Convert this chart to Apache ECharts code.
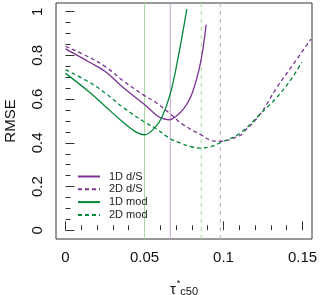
<!DOCTYPE html>
<html><head><meta charset="utf-8">
<script src="https://cdn.jsdelivr.net/npm/echarts@6/dist/echarts.min.js"></script>
<style>html,body{margin:0;padding:0;background:#fff}#c{width:320px;height:295px}</style>
</head><body><div id="c"></div>
<script>
// Data
const x1Dds = [0, 0.0152, 0.0258, 0.0363, 0.050, 0.057, 0.060, 0.0656, 0.070, 0.0747, 0.080, 0.0853, 0.089];
const y1Dds = [0.83, 0.769, 0.723, 0.654, 0.575, 0.53, 0.515, 0.505, 0.522, 0.555, 0.624, 0.761, 0.941];
const x2Dds = [0, 0.0152, 0.0258, 0.0363, 0.050, 0.057, 0.0663, 0.0737, 0.0863, 0.0916, 0.098, 0.1106, 0.1127, 0.123, 0.1338, 0.1443, 0.1553];
const y2Dds = [0.842, 0.791, 0.746, 0.685, 0.616, 0.586, 0.533, 0.487, 0.434, 0.413, 0.407, 0.434, 0.449, 0.529, 0.654, 0.761, 0.875];
const x1Dmod = [0, 0.0152, 0.0258, 0.0363, 0.0447, 0.050, 0.0568, 0.061, 0.0663, 0.0709, 0.0768];
const y1Dmod = [0.718, 0.632, 0.563, 0.495, 0.449, 0.437, 0.472, 0.517, 0.624, 0.776, 1.012];
const x2Dmod = [0, 0.0152, 0.0258, 0.0363, 0.050, 0.057, 0.0663, 0.0726, 0.080, 0.0857, 0.0916, 0.098, 0.1106, 0.123, 0.1338, 0.1422, 0.1496];
const y2Dmod = [0.735, 0.677, 0.624, 0.563, 0.495, 0.467, 0.419, 0.399, 0.381, 0.376, 0.382, 0.401, 0.445, 0.53, 0.609, 0.685, 0.769];
const optima = [0.0663, 0.098, 0.05, 0.0859]; // 1D d/S, 2D d/S, 1D mod, 2D mod
const seriesNames = ['1D d/S', '2D d/S', '1D mod', '2D mod'];
const xMajor = [0, 0.05, 0.1, 0.15];
const xMinor = [0.01, 0.02, 0.03, 0.04, 0.06, 0.07, 0.08, 0.09, 0.11, 0.12, 0.13, 0.14];
const yMajor = [0, 0.2, 0.4, 0.6, 0.8, 1];
const yMinor = [0.05, 0.1, 0.15, 0.25, 0.3, 0.35, 0.45, 0.5, 0.55, 0.65, 0.7, 0.75, 0.85, 0.9, 0.95];
const yRange = [-0.04, 1.04];
const xRange = [-0.006, 0.156];

const PURPLE = '#7b3294', LPURPLE = '#c2a5cf', GREEN = '#008837', LGREEN = '#a6dba0';
const FONT = 'Liberation Sans, Arial, sans-serif';
const zip = (xs, ys) => xs.map((v, i) => [v, ys[i]]);

const chart = echarts.init(document.getElementById('c'), null, {renderer: 'canvas'});
const tickStyle = {color: '#333', width: 1};
const mk = (name, xs, ys, color, dashed) => ({
  name, type: 'line', xAxisIndex: 0, yAxisIndex: 0, data: zip(xs, ys),
  symbol: 'none', smooth: 0.4, z: 3,
  lineStyle: {color, width: 1.3, type: dashed ? [4, 3] : 'solid'},
  itemStyle: {color}
});
const vline = (v, color, dashed) => ({
  type: 'line', xAxisIndex: 0, yAxisIndex: 0, z: 1, silent: true, symbol: 'none',
  data: [[v, yRange[0]], [v, yRange[1]]],
  lineStyle: {color, width: 1, type: dashed ? [4, 4] : 'solid'},
  itemStyle: {color}
});
chart.setOption({
  animation: false,
  textStyle: {fontFamily: FONT},
  grid: {left: 56, right: 8, top: 3, bottom: 56, show: true, borderColor: '#333', borderWidth: 1,
    outerBoundsMode: 'none', containLabel: false},
  legend: {
    data: seriesNames, orient: 'vertical', left: 72, top: 166,
    itemWidth: 22, itemHeight: 13, itemGap: 1.8,
    itemStyle: {opacity: 0, borderWidth: 0},
    textStyle: {fontSize: 11, color: '#222', fontFamily: FONT, padding: [0, 0, 0, 4]}
  },
  xAxis: [{
    type: 'value', min: xRange[0], max: xRange[1], position: 'bottom',
    axisLine: {show: false}, splitLine: {show: false},
    axisTick: {inside: true, length: 9, lineStyle: tickStyle, customValues: xMajor},
    axisLabel: {customValues: xMajor, fontSize: 15, color: '#111', margin: 11, fontFamily: FONT,
      formatter: v => String(Math.round(v * 1000) / 1000)},
    name: '{t|τ}{s|*}{c|c50}', nameLocation: 'middle', nameGap: 40,
    nameTextStyle: {rich: {
      t: {fontSize: 15, color: '#111', fontFamily: FONT, verticalAlign: 'bottom', lineHeight: 18},
      s: {fontSize: 9, color: '#111', fontFamily: FONT, verticalAlign: 'top', padding: [0, 0, 0, 1]},
      c: {fontSize: 11, color: '#111', fontFamily: FONT, verticalAlign: 'bottom', padding: [6, 0, 0, 0]}
    }}
  }, {
    type: 'value', min: xRange[0], max: xRange[1], position: 'bottom', offset: 0,
    axisLine: {show: false}, splitLine: {show: false},
    axisTick: {inside: true, length: 5, lineStyle: tickStyle, customValues: xMinor},
    axisLabel: {show: false}
  }],
  yAxis: [{
    type: 'value', min: yRange[0], max: yRange[1], position: 'left',
    axisLine: {show: false}, splitLine: {show: false},
    axisTick: {inside: true, length: 9, lineStyle: tickStyle, customValues: yMajor},
    axisLabel: {customValues: yMajor, fontSize: 15, color: '#111', margin: 11, rotate: 90, fontFamily: FONT,
      formatter: v => String(Math.round(v * 100) / 100)},
    name: 'RMSE', nameLocation: 'middle', nameRotate: 90, nameGap: 38,
    nameTextStyle: {fontSize: 15, color: '#111', fontFamily: FONT}
  }, {
    type: 'value', min: yRange[0], max: yRange[1], position: 'left', offset: 0,
    axisLine: {show: false}, splitLine: {show: false},
    axisTick: {inside: true, length: 5, lineStyle: tickStyle, customValues: yMinor},
    axisLabel: {show: false}
  }],
  series: [
    vline(optima[2], LGREEN, false),
    vline(optima[0], LPURPLE, false),
    vline(optima[3], LGREEN, true),
    vline(optima[1], LPURPLE, true),
    mk(seriesNames[0], x1Dds, y1Dds, PURPLE, false),
    mk(seriesNames[1], x2Dds, y2Dds, PURPLE, true),
    mk(seriesNames[2], x1Dmod, y1Dmod, GREEN, false),
    mk(seriesNames[3], x2Dmod, y2Dmod, GREEN, true)
  ]
});
</script></body></html>
